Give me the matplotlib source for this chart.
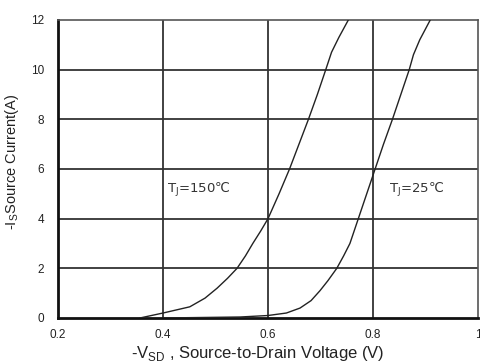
import matplotlib
matplotlib.use("Agg")
import matplotlib.pyplot as plt

plt.rcParams['font.family'] = ['Liberation Sans', 'DejaVu Sans']

# body diode forward characteristics, -Is vs -Vsd
v_150 = [0.356, 0.400, 0.451, 0.480, 0.503, 0.523, 0.541, 0.557, 0.571, 0.586, 0.600,
         0.621, 0.641, 0.659, 0.677, 0.694, 0.710, 0.721, 0.735, 0.753]
i_150 = [0.0, 0.2, 0.45, 0.8, 1.2, 1.6, 2.0, 2.5, 3.0, 3.5, 4.0,
         5.0, 6.0, 7.0, 8.0, 9.0, 10.0, 10.7, 11.3, 12.0]

v_25 = [0.400, 0.547, 0.600, 0.635, 0.661, 0.682, 0.699, 0.714, 0.731, 0.744, 0.756,
        0.764, 0.772, 0.788, 0.804, 0.820, 0.837, 0.853, 0.869, 0.877, 0.889, 0.909]
i_25 = [0.0, 0.04, 0.1, 0.2, 0.4, 0.7, 1.1, 1.5, 2.0, 2.5, 3.0,
        3.5, 4.0, 5.0, 6.0, 7.0, 8.0, 9.0, 10.0, 10.6, 11.2, 12.0]

x_ticks = [0.2, 0.4, 0.6, 0.8, 1.0]
x_labels = ['0.2', '0.4', '0.6', '0.8', '1']
y_ticks = [0, 2, 4, 6, 8, 10, 12]

fig = plt.figure(figsize=(4.81, 3.63), dpi=100)
ax = fig.add_axes([0.1206, 0.124, 0.8732, 0.821])

ax.set_xlim(0.2, 1.0)
ax.set_ylim(0, 12)
ax.set_xticks(x_ticks)
ax.set_xticklabels(x_labels)
ax.set_yticks(y_ticks)
ax.tick_params(length=0, labelsize=8.5, colors='#222222')
ax.tick_params(axis='x', pad=8)
ax.tick_params(axis='y', pad=10)

for y in y_ticks[1:-1]:
    ax.axhline(y, color='#333333', lw=1.3, zorder=1)
for x in x_ticks[1:-1]:
    ax.axvline(x, color='#333333', lw=1.3, zorder=1)

for side in ['left', 'bottom']:
    ax.spines[side].set_linewidth(2.0)
    ax.spines[side].set_color('#111111')
for side in ['top', 'right']:
    ax.spines[side].set_linewidth(1.2)
    ax.spines[side].set_color('#555555')

ax.plot(v_150, i_150, color='#222222', lw=1.0, zorder=3)
ax.plot(v_25, i_25, color='#222222', lw=1.0, zorder=3)

label_kw = dict(fontsize=9.5, color='#333333', va='center', family='DejaVu Sans')
ax.text(0.407, 5.15, 'T$_\\mathregular{J}$=150\u2103', **label_kw)
ax.text(0.830, 5.15, 'T$_\\mathregular{J}$=25\u2103', **label_kw)

ax.set_xlabel('-V$_\\mathregular{SD}$ , Source-to-Drain Voltage (V)', fontsize=12, color='#222222')
ax.xaxis.set_label_coords(0.475, -0.088)
ax.set_ylabel('-I$_\\mathregular{S}$Source Current(A)', fontsize=10.5, color='#222222')
ax.yaxis.set_label_coords(-0.088, 0.523)

fig.savefig('out.png', dpi=100)
